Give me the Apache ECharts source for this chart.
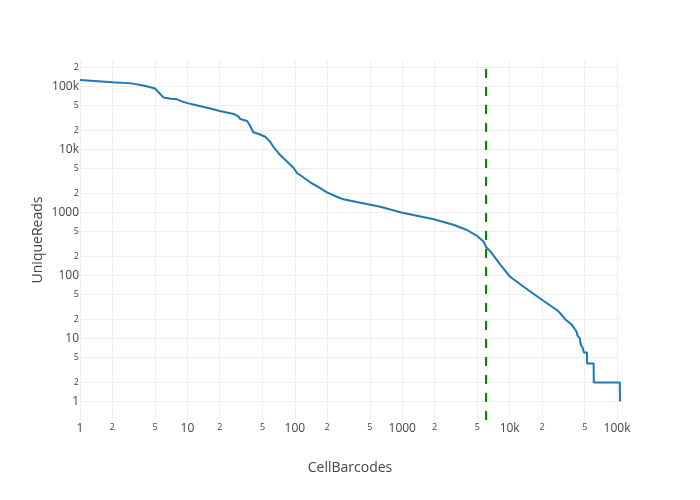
<!DOCTYPE html>
<html>
<head>
<meta charset="utf-8">
<script src="https://cdn.jsdelivr.net/npm/echarts@6/dist/echarts.min.js"></script>
<style>html,body{margin:0;padding:0;background:#fff}#c{width:700px;height:500px}</style>
</head>
<body>
<div id="c"></div>
<script>
// Data: cell barcode rank vs unique reads
const cellRanks = [1,2,3,4,5,6,7,8,9,10,13,16,20,27,30,31,36,38,41,47,53,59,63,73,85,98,105,112,139,172,199,240,283,408,624,1000,1972,3040,4000,4970,5740,6030,6640,8180,10100,13500,19200,27700,29600,33000,37300,41700,43000,45000,45900,48000,49100,52400,52600,60500,60700,106000,106500];
const uniqueReads = [125600,115600,111000,102000,92000,66000,63500,62000,57000,54000,48600,44700,40500,36300,32900,30200,28100,24300,18600,17300,15800,13200,11000,8100,6350,5000,4170,3910,3000,2430,2080,1800,1610,1420,1230,985,776,630,525,422,343,282,238,148,95,66,43,28,25,20,17,13,11,10,8,7,6,6,4,4,2,2,1];
const kneeRank = 6030;
const kneeTop = 188000;

const xTicks = [1,2,5,10,20,50,100,200,500,1000,2000,5000,10000,20000,50000,100000];
const xTickLabels = ['1','2','5','10','2','5','100','2','5','1000','2','5','10k','2','5','100k'];
const yTicks = [1,2,5,10,20,50,100,200,500,1000,2000,5000,10000,20000,50000,100000,200000];
const yTickLabels = ['1','2','5','10','2','5','100','2','5','1000','2','5','10k','2','5','100k','2'];

const L = Math.log10;
function fmt(ticks, labels) {
  return function (v) {
    let i = ticks.findIndex(t => Math.abs(L(t) - v) < 1e-6);
    if (i < 0) return '';
    const major = Math.abs(L(ticks[i]) - Math.round(L(ticks[i]))) < 1e-9;
    return (major ? '{a|' : '{b|') + labels[i] + '}';
  };
}
const rich = {
  a: {fontSize: 12, color: '#444', fontFamily: 'Open Sans'},
  b: {fontSize: 9, color: '#444', fontFamily: 'Open Sans'}
};
const yMin = -0.293, yMax = 5.416;
const xMin = 0, xMax = L(cellRanks[cellRanks.length - 1]);

const chart = echarts.init(document.getElementById('c'), null, {renderer: 'canvas'});
chart.setOption({
  animation: false,
  backgroundColor: '#fff',
  grid: {left: 80, right: 80, top: 60, bottom: 80, containLabel: false, outerBoundsMode: 'none'},
  xAxis: {
    type: 'value', min: xMin, max: xMax,
    name: 'CellBarcodes', nameLocation: 'middle', nameGap: 41, nameMoveOverlap: false,
    nameTextStyle: {fontSize: 14, color: '#444', fontFamily: 'Open Sans'},
    axisLine: {show: false}, axisTick: {show: false, customValues: xTicks.map(L)},
    splitLine: {show: true, lineStyle: {color: '#eee', width: 1}},
    axisLabel: {customValues: xTicks.map(L), formatter: fmt(xTicks, xTickLabels), rich: rich, margin: 3, showMinLabel: true, showMaxLabel: true, hideOverlap: false}
  },
  yAxis: {
    type: 'value', min: yMin, max: yMax,
    name: 'UniqueReads', nameLocation: 'middle', nameGap: 35, nameMoveOverlap: false,
    nameTextStyle: {fontSize: 14, color: '#444', fontFamily: 'Open Sans'},
    axisLine: {show: false}, axisTick: {show: false, customValues: yTicks.map(L)},
    splitLine: {show: true, lineStyle: {color: '#eee', width: 1}},
    axisLabel: {customValues: yTicks.map(L), formatter: fmt(yTicks, yTickLabels), rich: rich, margin: 1, showMinLabel: true, showMaxLabel: true, hideOverlap: false}
  },
  series: [
    {
      type: 'line', showSymbol: false, symbol: 'none',
      data: cellRanks.map((x, i) => [L(x), L(uniqueReads[i])]),
      lineStyle: {color: '#1f77b4', width: 2},
      z: 2
    },
    {
      type: 'line', showSymbol: false, symbol: 'none',
      data: [[L(kneeRank), L(kneeTop)], [L(kneeRank), yMin]],
      lineStyle: {color: '#008000', width: 2, type: [9, 9]},
      z: 3
    }
  ]
});
</script>
</body>
</html>
